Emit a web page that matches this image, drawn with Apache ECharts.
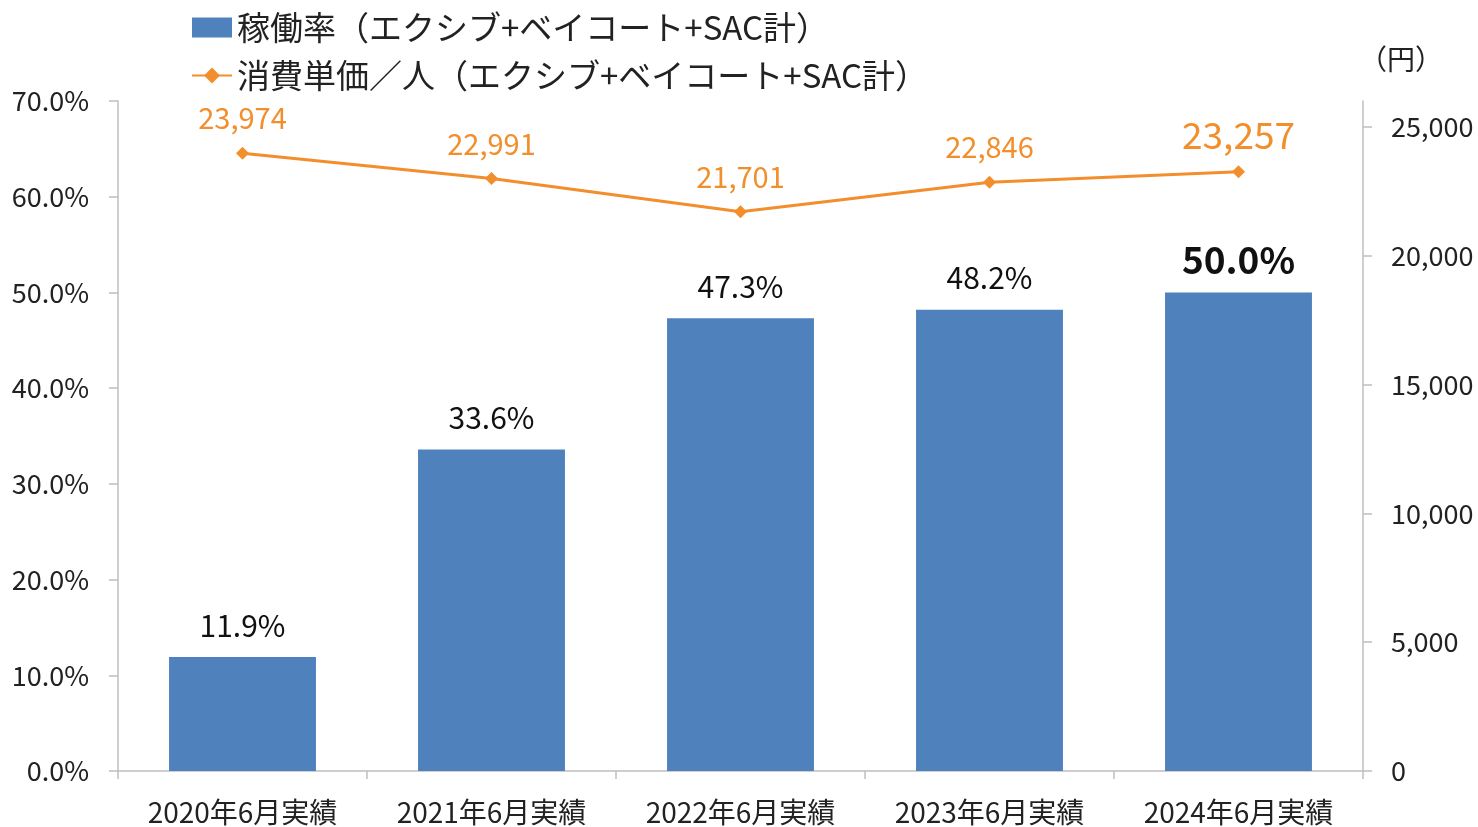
<!DOCTYPE html>
<html><head><meta charset="utf-8">
<script src="https://cdn.jsdelivr.net/npm/echarts@6/dist/echarts.min.js"></script>
<style>html,body{margin:0;padding:0;background:#fff}#c{width:1478px;height:827px}</style>
</head><body><div id="c"></div>
<script>
const categories = ['2020年6月実績','2021年6月実績','2022年6月実績','2023年6月実績','2024年6月実績'];
const utilization = [11.9, 33.6, 47.3, 48.2, 50.0];
const unitPrice = [23974, 22991, 21701, 22846, 23257];
const leftTicks = [0, 10, 20, 30, 40, 50, 60, 70];
const rightTicks = [0, 5000, 10000, 15000, 20000, 25000];
const seriesNames = ['稼働率（エクシブ+ベイコート+SAC計）', '消費単価／人（エクシブ+ベイコート+SAC計）'];

const FONT = '"Noto Sans CJK JP", "Noto Sans", sans-serif';
const chart = echarts.init(document.getElementById('c'), null, {renderer: 'canvas'});
const last = categories.length - 1;
chart.setOption({
  animation: false,
  textStyle: {fontFamily: FONT},
  grid: {left: 118, right: 115, top: 101, bottom: 56},
  legend: {
    orient: 'vertical', left: 186, top: 6, itemGap: 15, itemWidth: 40, itemHeight: 20,
    textStyle: {fontSize: 33, color: '#222', fontFamily: FONT},
    data: [
      {name: seriesNames[0], icon: 'rect'},
      {name: seriesNames[1]}
    ]
  },
  xAxis: {
    type: 'category', data: categories,
    axisLine: {lineStyle: {color: '#bfbfbf', width: 1.5}},
    axisTick: {show: true, length: 8, lineStyle: {color: '#bfbfbf', width: 1.5}},
    axisLabel: {fontSize: 28, color: '#222', margin: 27, fontFamily: FONT}
  },
  yAxis: [
    {
      type: 'value', min: 0, max: 70, interval: 10,
      axisLine: {show: true, lineStyle: {color: '#bfbfbf', width: 1.5}},
      axisTick: {show: true, length: 9, lineStyle: {color: '#bfbfbf', width: 1.5}},
      splitLine: {show: false},
      axisLabel: {fontSize: 27, color: '#222', margin: 29, fontFamily: FONT,
        formatter: v => leftTicks.includes(v) ? v.toFixed(1) + '%' : ''}
    },
    {
      type: 'value', min: 0, max: 26000, interval: 5000, position: 'right',
      name: '（円）', nameLocation: 'end', nameGap: 28,
      nameTextStyle: {fontSize: 28, color: '#222', align: 'left', padding: [0, 0, 0, -4], fontFamily: FONT},
      axisLine: {show: true, lineStyle: {color: '#bfbfbf', width: 1.5}},
      axisTick: {show: true, length: 9, lineStyle: {color: '#bfbfbf', width: 1.5}},
      splitLine: {show: false},
      axisLabel: {fontSize: 27, color: '#222', margin: 28, showMaxLabel: false, fontFamily: FONT,
        formatter: v => rightTicks.includes(v) ? v.toLocaleString('en-US') : ''}
    }
  ],
  series: [
    {
      name: seriesNames[0], type: 'bar', yAxisIndex: 0, barWidth: '59%',
      itemStyle: {color: '#4F81BD'},
      data: utilization.map((v, i) => ({
        value: v,
        label: i === last ? {fontSize: 37, fontWeight: 'bold', distance: 14} : {}
      })),
      label: {show: true, position: 'top', distance: 17, fontSize: 30, color: '#111', fontFamily: FONT,
        formatter: p => p.value.toFixed(1) + '%'}
    },
    {
      name: seriesNames[1], type: 'line', yAxisIndex: 1, symbol: 'diamond', symbolSize: 13,
      itemStyle: {color: '#F28E2B'}, lineStyle: {color: '#F28E2B', width: 3},
      data: unitPrice.map((v, i) => ({
        value: v,
        label: i === last ? {fontSize: 37, distance: 12} : {}
      })),
      label: {show: true, position: 'top', distance: 14, fontSize: 29, color: '#F28E2B', fontFamily: FONT,
        formatter: p => p.value.toLocaleString('en-US')}
    }
  ]
});
</script></body></html>
